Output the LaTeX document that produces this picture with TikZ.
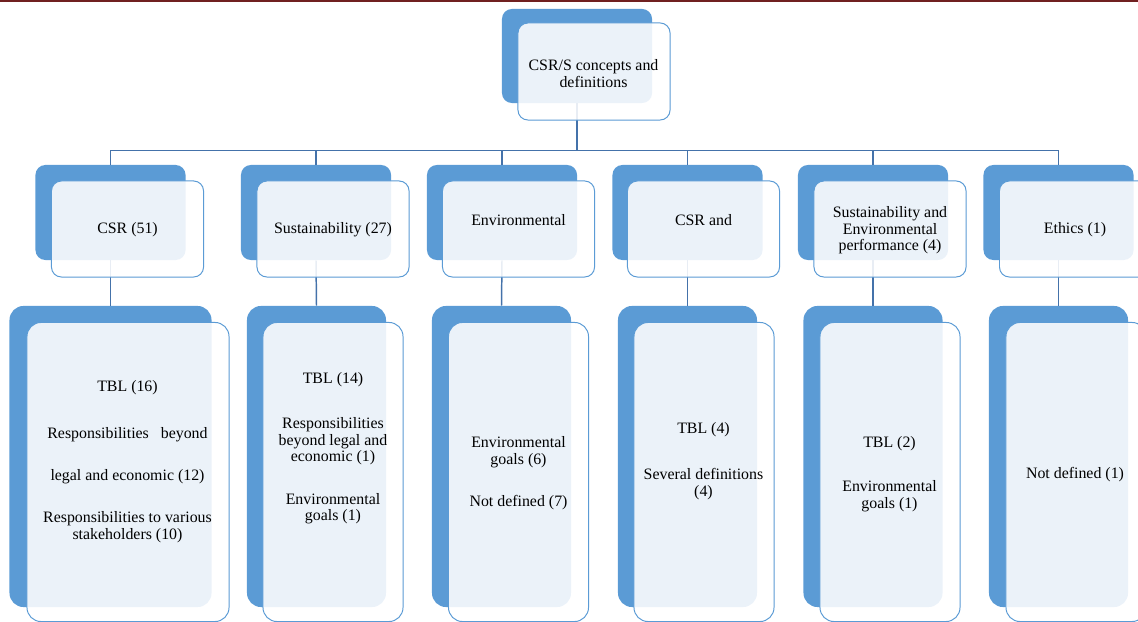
\documentclass[tikz,border=0pt]{standalone}
\usepackage{fontspec}
\setmainfont{Liberation Serif}
\usepackage{tikz}
\usetikzlibrary{positioning,calc}
\definecolor{smartblue}{RGB}{91,155,213}
\definecolor{linkblue}{RGB}{68,114,170}
\definecolor{rulered}{RGB}{112,32,32}
\tikzset{
  backbox/.style={fill=smartblue, rounded corners=7pt, inner sep=0pt},
  frontbox/.style={draw=smartblue, line width=0.7pt, fill=white, fill opacity=0.88, rounded corners=7pt, inner sep=0pt},
  topback/.style={backbox, minimum width=3.75cm, minimum height=2.35cm},
  topfront/.style={frontbox, minimum width=3.8cm, minimum height=2.425cm},
  midback/.style={backbox, minimum width=3.75cm, minimum height=2.375cm},
  midfront/.style={frontbox, minimum width=3.8cm, minimum height=2.4cm},
  lowback/.style={backbox, rounded corners=10pt, minimum width=3.475cm, minimum height=7.525cm},
  lowfront/.style={frontbox, rounded corners=10pt, minimum width=3.5cm, minimum height=7.475cm},
  txt/.style={align=center, inner sep=0pt, yshift=-0.05cm, font=\fontsize{11.3}{11.8}\selectfont},
  link/.style={draw=linkblue, line width=1.05pt}
}

\begin{document}
\begin{tikzpicture}[x=0.025cm, y=-0.025cm]
  \useasboundingbox (0,0) rectangle (1138,622);
  \clip (0,0) rectangle (1138,622);
  \fill[rulered] (0,0) rectangle (1138,1.8);

  % back boxes
  \node[topback] (top) at (577,56) {};
  \node[midback] (csr) at (110.5,212.5) {};
  \node[midback] (sus) at (316,212.5) {};
  \node[midback] (env) at (502,212.5) {};
  \node[midback] (csrenv) at (687.5,212.5) {};
  \node[midback] (susenv) at (873,212.5) {};
  \node[midback] (eth) at (1058.5,212.5) {};
  \node[lowback, minimum width=5.05cm] (csrdef) at (110.5,456.5) {};
  \node[lowback] (susdef) at (316.5,456.5) {};
  \node[lowback] (envdef) at (501.5,456.5) {};
  \node[lowback] (csrenvdef) at (687.5,456.5) {};
  \node[lowback] (susenvdef) at (873,456.5) {};
  \node[lowback] (ethdef) at (1058.5,456.5) {};

  % connectors
  \coordinate (bus) at (577,150.5);
  \draw[link] (top.south) -- (bus);
  \foreach \n in {csr,sus,env,csrenv,susenv,eth}{
    \draw[link] (bus) -| (\n.north);
    \draw[link] (\n.south) -- (\n def.north);
  }

  % front boxes
  \node[topfront] (topf) at (594,71.5) {};
  \node[midfront] (csrf) at (127.5,229) {};
  \node[midfront] (susf) at (333,229) {};
  \node[midfront] (envf) at (518.5,229) {};
  \node[midfront] (csrenvf) at (703.5,229) {};
  \node[midfront] (susenvf) at (890,229) {};
  \node[midfront] (ethf) at (1075.5,229) {};
  \node[lowfront, minimum width=5.05cm] (csrdeff) at (128,472) {};
  \node[lowfront] (susdeff) at (333,472) {};
  \node[lowfront] (envdeff) at (518.5,472) {};
  \node[lowfront] (csrenvdeff) at (704,472) {};
  \node[lowfront] (susenvdeff) at (890,472) {};
  \node[lowfront] (ethdeff) at (1076,472) {};

  % texts
  \node[txt] (topt) at (593.5,71.5) {CSR/S concepts and\\definitions};
  \node[txt] (csrt) at (127.5,228) {CSR (51)};
  \node[txt] (sust) at (333,228) {Sustainability (27)};
  \node[txt] (envt) at (518.5,218) {Environmental};
  \node[txt] (csrenvt) at (703.5,218) {CSR and};
  \node[txt] (susenvt) at (890,228.5) {Sustainability and\\Environmental\\performance (4)};
  \node[txt] (etht) at (1075,228) {Ethics (1)};

  \node[txt] (csra) at (127.5,386) {TBL (16)};
  \node[txt] (csrb) at (127.5,433) {Responsibilities\ \ \ beyond};
  \node[txt] (csrc) at (127.5,475) {legal and economic (12)};
  \node[txt] (csrd) at (127.5,525) {Responsibilities to various\\stakeholders (10)};
  \node[txt] (susa) at (333,378) {TBL (14)};
  \node[txt] (susb) at (333,439.5) {Responsibilities\\beyond legal and\\economic (1)};
  \node[txt] (susc) at (333,506.5) {Environmental\\goals (1)};
  \node[txt] (enva) at (518.5,450) {Environmental\\goals (6)};
  \node[txt] (envb) at (518.5,501) {Not defined (7)};
  \node[txt] (csrenva) at (703.5,428) {TBL (4)};
  \node[txt] (csrenvb) at (703.5,482) {Several definitions\\(4)};
  \node[txt] (susenva) at (889.5,442) {TBL (2)};
  \node[txt] (susenvb) at (889.5,494) {Environmental\\goals (1)};
  \node[txt] (etha) at (1075,473) {Not defined (1)};
\end{tikzpicture}
\end{document}
